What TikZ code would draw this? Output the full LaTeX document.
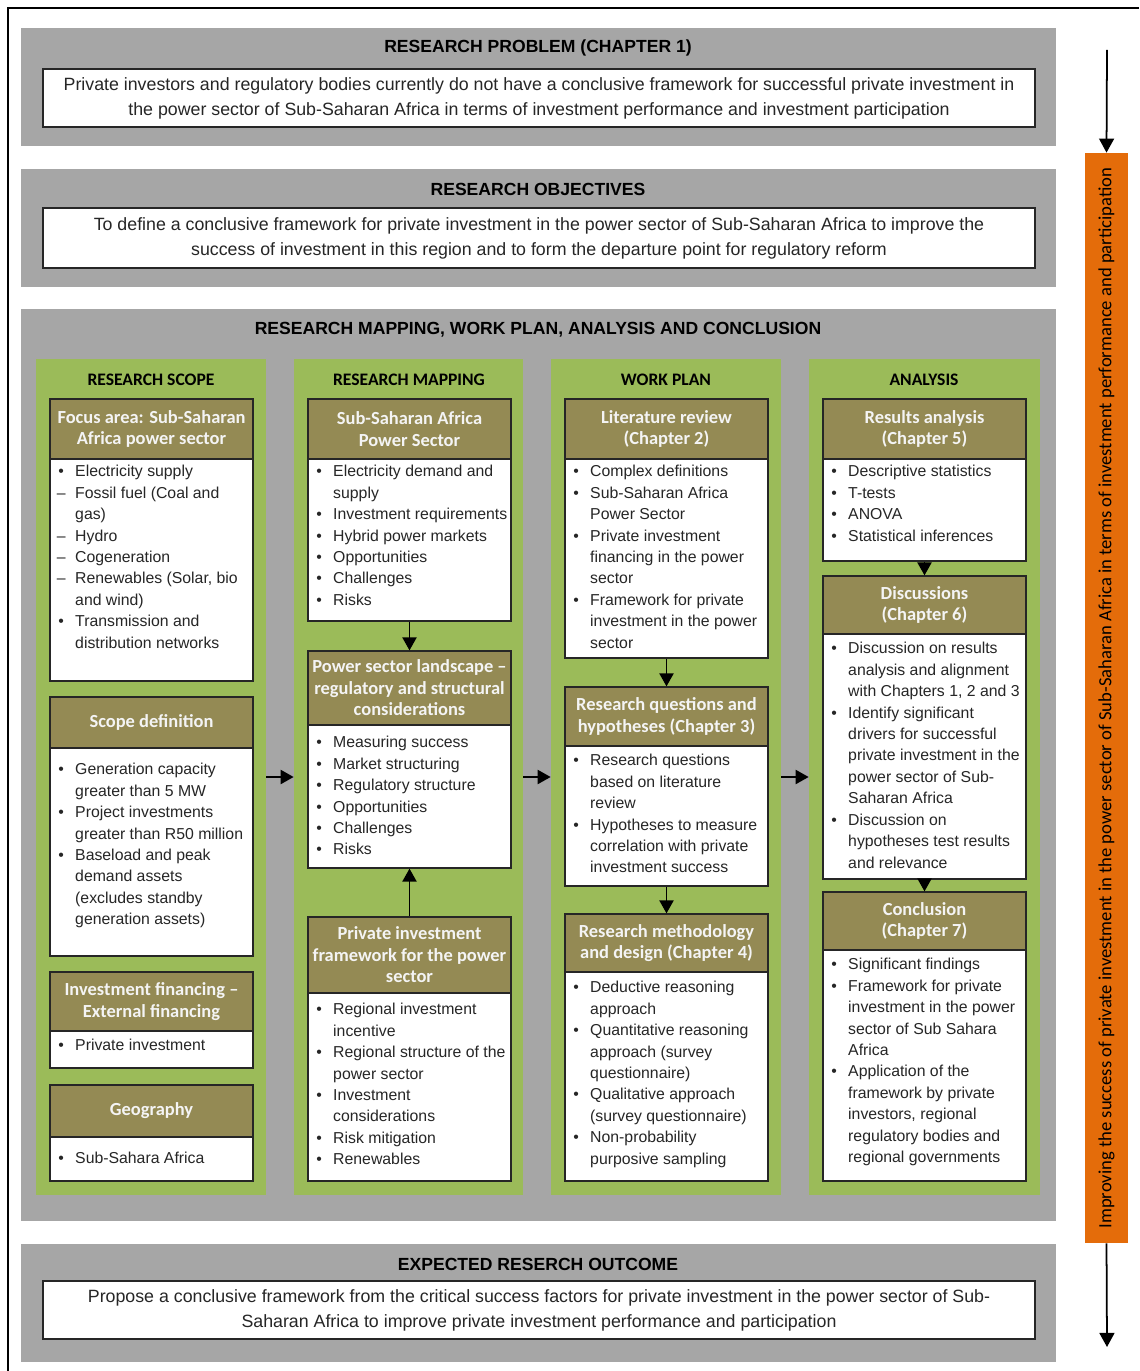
\documentclass[tikz,border=0pt]{standalone}
\usepackage{fontspec}
\setmainfont{Liberation Sans}
\newfontfamily\hdfont{Carlito}
\usetikzlibrary{arrows.meta,fit}

\definecolor{panelgray}{HTML}{A6A6A6}
\definecolor{colgreen}{HTML}{9BBB59}
\definecolor{hdbrown}{HTML}{948A54}
\definecolor{barorange}{HTML}{E46C0A}
\definecolor{ink}{HTML}{262626}
\definecolor{hdtext}{HTML}{F4F4F4}

% list markers with a fixed hanging column
\newcommand\bu{\makebox[9.6pt][l]{•}}
\newcommand\da{\makebox[9.6pt][l]{\hspace{-0.8pt}–}}
\newcommand\ind{\makebox[9.6pt][l]{}}

\begin{document}
\begin{tikzpicture}[x=0.02cm, y=-0.02cm,
  panel/.style={fill=panelgray, draw=none, inner sep=0pt},
  column/.style={fill=colgreen, draw=none, inner sep=0pt},
  hdbox/.style={fill=hdbrown, draw=ink, line width=0.7pt, inner sep=0pt},
  hdlabel/.style={inner sep=0pt, text=hdtext, align=center,
    font=\hdfont\bfseries\fontsize{10.5}{12.2}\selectfont},
  bodybox/.style={fill=white, draw=ink, line width=0.7pt, inner sep=0pt},
  bodytext/.style={anchor=north west, inner sep=0pt, align=left, text=ink,
    font=\fontsize{9}{12.2}\selectfont, execute at begin node={\rule{0pt}{7pt}}},
  whitebox/.style={fill=white, draw=ink, line width=0.7pt, inner sep=0pt},
  whitetext/.style={inner sep=0pt, align=center, text=ink, font=\fontsize{10.12}{14.2}\selectfont},
  paneltitle/.style={inner sep=0pt, text=black, font=\bfseries\fontsize{10}{12}\selectfont},
  colhead/.style={inner sep=0pt, text=black, font=\hdfont\bfseries\fontsize{10}{12}\selectfont},
  flow/.style={-{Triangle[length=7.4pt,width=8pt]}, line width=1.1pt, black},
  thinarrow/.style={-{Triangle[length=8pt,width=8.5pt]}, line width=1pt, black}
]
\useasboundingbox (0,0) rectangle (1139,1371);

% outer frame
\draw[line width=0.8pt] (8,1371) -- (8,8) -- (1139,8);

% ---------- research problem ----------
\node[panel, fit={(21,28) (1056,146)}] (p1) {};
\node[paneltitle] (p1t) at (538,48) {RESEARCH PROBLEM (CHAPTER 1)};
\node[whitebox, fit={(43,69) (1035,127)}] (p1b) {};
\node[whitetext] (p1x) at (p1b.center)
  {Private investors and regulatory bodies currently do not have a conclusive framework for successful private investment in\\
   the power sector of Sub-Saharan Africa in terms of investment performance and investment participation};

% ---------- research objectives ----------
\node[panel, fit={(21,169) (1056,287)}] (p2) {};
\node[paneltitle] (p2t) at (538,189) {RESEARCH OBJECTIVES};
\node[whitebox, fit={(43,208) (1035,268)}] (p2b) {};
\node[whitetext] (p2x) at (p2b.center)
  {To define a conclusive framework for private investment in the power sector of Sub-Saharan Africa to improve the\\
   success of investment in this region and to form the departure point for regulatory reform};

% ---------- research mapping ----------
\node[panel, fit={(21,309) (1056,1221)}] (p3) {};
\node[paneltitle] (p3t) at (538,330) {RESEARCH MAPPING, WORK PLAN, ANALYSIS AND CONCLUSION};

\node[column, fit={(36,359) (266,1195)}] (c1) {};
\node[column, fit={(294,359) (523,1195)}] (c2) {};
\node[column, fit={(551,359) (781,1195)}] (c3) {};
\node[column, fit={(809,359) (1040,1195)}] (c4) {};

\node[colhead] (c1t) at (151,380) {RESEARCH SCOPE};
\node[colhead] (c2t) at (409,380) {RESEARCH MAPPING};
\node[colhead] (c3t) at (666,380) {WORK PLAN};
\node[colhead] (c4t) at (924,380) {ANALYSIS};

% column 1: research scope
\node[hdbox, fit={(50,399) (253,459)}] (h11) {};
\node[hdlabel] at (h11.center) {Focus area: Sub-Saharan\\Africa power sector};
\node[bodybox, fit={(50,459) (253,681)}] (b11) {};
\node[bodytext] (t11) at (58,465) {\bu Electricity supply\\\da Fossil fuel (Coal and\\\ind gas)\\\da Hydro\\\da Cogeneration\\\da Renewables (Solar, bio\\\ind and wind)\\\bu Transmission and\\\ind distribution networks};

\node[hdbox, fit={(50,697) (253,748)}] (h12) {};
\node[hdlabel] at (h12.center) {Scope definition};
\node[bodybox, fit={(50,748) (253,956)}] (b12) {};
\node[bodytext] (t12) at (58,763) {\bu Generation capacity\\\ind greater than 5 MW\\\bu Project investments\\\ind greater than R50 million\\\bu Baseload and peak\\\ind demand assets\\\ind (excludes standby\\\ind generation assets)};

\node[hdbox, fit={(50,972) (253,1031)}] (h13) {};
\node[hdlabel] at (h13.center) {Investment financing –\\External financing};
\node[bodybox, fit={(50,1031) (253,1068)}] (b13) {};
\node[bodytext] (t13) at (58,1038) {\bu Private investment};

\node[hdbox, fit={(50,1085) (253,1137)}] (h14) {};
\node[hdlabel] at (h14.center) {Geography};
\node[bodybox, fit={(50,1137) (253,1181)}] (b14) {};
\node[bodytext] (t14) at (58,1151) {\bu Sub-Sahara Africa};

% column 2: research mapping
\node[hdbox, fit={(308,399) (511,459)}] (h21) {};
\node[hdlabel] at (h21.center) {Sub-Saharan Africa\\Power Sector};
\node[bodybox, fit={(308,459) (511,621)}] (b21) {};
\node[bodytext] (t21) at (316,465) {\bu Electricity demand and\\\ind supply\\\bu Investment requirements\\\bu Hybrid power markets\\\bu Opportunities\\\bu Challenges\\\bu Risks};

\node[hdbox, fit={(308,651) (511,725)}] (h22) {};
\node[hdlabel] at (h22.center) {Power sector landscape –\\regulatory and structural\\considerations};
\node[bodybox, fit={(308,725) (511,868)}] (b22) {};
\node[bodytext] (t22) at (316,736) {\bu Measuring success\\\bu Market structuring\\\bu Regulatory structure\\\bu Opportunities\\\bu Challenges\\\bu Risks};

\node[hdbox, fit={(308,917) (511,993)}] (h23) {};
\node[hdlabel] at (h23.center) {Private investment\\framework for the power\\sector};
\node[bodybox, fit={(308,993) (511,1181)}] (b23) {};
\node[bodytext] (t23) at (316,1003) {\bu Regional investment\\\ind incentive\\\bu Regional structure of the\\\ind power sector\\\bu Investment\\\ind considerations\\\bu Risk mitigation\\\bu Renewables};

% column 3: work plan
\node[hdbox, fit={(565,399) (768,459)}] (h31) {};
\node[hdlabel] at (h31.center) {Literature review\\(Chapter 2)};
\node[bodybox, fit={(565,459) (768,658)}] (b31) {};
\node[bodytext] (t31) at (573,465) {\bu Complex definitions\\\bu Sub-Saharan Africa\\\ind Power Sector\\\bu Private investment\\\ind financing in the power\\\ind sector\\\bu Framework for private\\\ind investment in the power\\\ind sector};

\node[hdbox, fit={(565,687) (768,746)}] (h32) {};
\node[hdlabel] at (h32.center) {Research questions and\\hypotheses (Chapter 3)};
\node[bodybox, fit={(565,746) (768,886)}] (b32) {};
\node[bodytext] (t32) at (573,754) {\bu Research questions\\\ind based on literature\\\ind review\\\bu Hypotheses to measure\\\ind correlation with private\\\ind investment success};

\node[hdbox, fit={(565,914) (768,972)}] (h33) {};
\node[hdlabel] at (h33.center) {Research methodology\\and design (Chapter 4)};
\node[bodybox, fit={(565,972) (768,1181)}] (b33) {};
\node[bodytext] (t33) at (573,981) {\bu Deductive reasoning\\\ind approach\\\bu Quantitative reasoning\\\ind approach (survey\\\ind questionnaire)\\\bu Qualitative approach\\\ind (survey questionnaire)\\\bu Non-probability\\\ind purposive sampling};

% column 4: analysis
\node[hdbox, fit={(823,399) (1026,459)}] (h41) {};
\node[hdlabel] at (h41.center) {Results analysis\\(Chapter 5)};
\node[bodybox, fit={(823,459) (1026,561)}] (b41) {};
\node[bodytext] (t41) at (831,465) {\bu Descriptive statistics\\\bu T-tests\\\bu ANOVA\\\bu Statistical inferences};

\node[hdbox, fit={(823,576) (1026,634)}] (h42) {};
\node[hdlabel] at (h42.center) {Discussions\\(Chapter 6)};
\node[bodybox, fit={(823,634) (1026,879)}] (b42) {};
\node[bodytext] (t42) at (831,642) {\bu Discussion on results\\\ind analysis and alignment\\\ind with Chapters 1, 2 and 3\\\bu Identify significant\\\ind drivers for successful\\\ind private investment in the\\\ind power sector of Sub-\\\ind Saharan Africa\\\bu Discussion on\\\ind hypotheses test results\\\ind and relevance};

\node[hdbox, fit={(823,892) (1026,950)}] (h43) {};
\node[hdlabel] at (h43.center) {Conclusion\\(Chapter 7)};
\node[bodybox, fit={(823,950) (1026,1181)}] (b43) {};
\node[bodytext] (t43) at (831,958) {\bu Significant findings\\\bu Framework for private\\\ind investment in the power\\\ind sector of Sub Sahara\\\ind Africa\\\bu Application of the\\\ind framework by private\\\ind investors, regional\\\ind regulatory bodies and\\\ind regional governments};

% flow between boxes and columns
\draw[flow] (b21) -- (h22);
\draw[flow] (h23) -- (b22);
\draw[flow] (b31) -- (h32);
\draw[flow] (b32) -- (h33);
\draw[flow] (b41) -- (h42);
\draw[flow] (b42) -- (h43);
\draw[flow] (c1) -- (c2);
\draw[flow] (c2) -- (c3);
\draw[flow] (c3) -- (c4);

% ---------- expected outcome ----------
\node[panel, fit={(21,1244) (1056,1362)}] (p4) {};
\node[paneltitle] (p4t) at (538,1264) {EXPECTED RESERCH OUTCOME};
\node[whitebox, fit={(43,1281) (1035,1339)}] (p4b) {};
\node[whitetext] (p4x) at (p4b.center)
  {Propose a conclusive framework from the critical success factors for private investment in the power sector of Sub-\\
   Saharan Africa to improve private investment performance and participation};

% ---------- side bar ----------
\node[fill=barorange, draw=none, inner sep=0pt, fit={(1085,153) (1128,1243)}] (bar) {};
\node[rotate=90, inner sep=0pt, text=black, font=\hdfont\fontsize{10.6}{12}\selectfont] (bart) at (bar.center)
  {Improving the success of private investment in the power sector of Sub-Saharan Africa in terms of investment performance and participation};
\coordinate (bartop) at (1107,50);
\coordinate (barbot) at (1107,1347);
\draw[thinarrow] (bartop) -- (bar.north);
\draw[thinarrow] (bar.south) -- (barbot);

\end{tikzpicture}
\end{document}
